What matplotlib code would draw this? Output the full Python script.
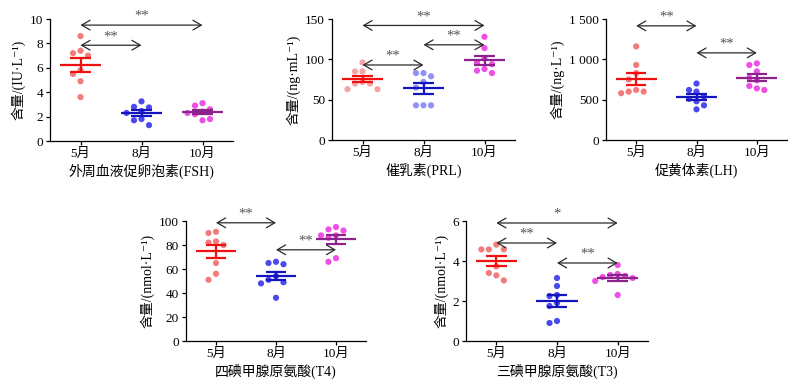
import numpy as np
import matplotlib
matplotlib.use('Agg')
import matplotlib.pyplot as plt

plt.rcParams['font.family'] = ['Liberation Serif', 'Noto Sans CJK SC', 'DejaVu Serif']

# ---- data ----
months = ['5月', '8月', '10月']

fsh = [[8.6, 7.4, 7.2, 7.0, 5.8, 5.5, 4.9, 3.6],
       [3.25, 2.8, 2.75, 2.45, 2.3, 1.8, 1.7, 1.3],
       [3.1, 2.9, 2.6, 2.4, 2.3, 2.2, 1.8, 1.7]]
prl = [[96, 85, 85, 72, 70, 70, 63, 63],
       [83, 83, 79, 72, 65, 43, 43, 43],
       [128, 114, 101, 96, 94, 88, 86, 83]]
lh = [[1160, 930, 830, 750, 620, 600, 600, 580],
      [700, 620, 600, 540, 510, 480, 430, 380],
      [950, 930, 850, 770, 740, 670, 640, 620]]
t4 = [[91, 90, 83, 82, 80, 65, 56, 51],
      [66, 65, 64, 54, 51, 49, 48, 36],
      [95, 93, 92, 88, 88, 86, 69, 66]]
t3 = [[4.82, 4.58, 4.58, 4.58, 3.73, 3.4, 3.28, 3.03],
      [3.15, 2.75, 2.3, 2.25, 1.9, 1.75, 1.0, 0.9],
      [3.8, 3.35, 3.3, 3.25, 3.2, 3.15, 3.0, 2.3]]

# significance arrows: (group a, group b, height, stars)
fsh_sig = [(0, 2, 9.5, '**'), (0, 1, 7.85, '**')]
prl_sig = [(0, 2, 142, '**'), (1, 2, 118, '**'), (0, 1, 93, '**')]
lh_sig = [(0, 1, 1415, '**'), (1, 2, 1080, '**')]
t4_sig = [(0, 1, 98.5, '**'), (1, 2, 76, '**')]
t3_sig = [(0, 2, 5.9, '*'), (0, 1, 4.9, '**'), (1, 2, 3.9, '**')]

fsh_ticks = [0, 2, 4, 6, 8, 10]
prl_ticks = [0, 50, 100, 150]
lh_ticks = [0, 500, 1000, 1500]
lh_ticklabels = ['0', '500', '1 000', '1 500']
t4_ticks = [0, 20, 40, 60, 80, 100]
t3_ticks = [0, 2, 4, 6]

# ---- styles ----
dot_colors = ['#F27C7C', '#4A4AEE', '#EE4FE4']
line_colors = ['#F01010', '#1515C0', '#8C228C']


def swarm_x(ax, vals, xc, d=7.5):
    """simple beeswarm in pixel space"""
    pts = ax.transData.transform(np.column_stack([np.full(len(vals), xc), vals]))
    placed = []
    for px, py in pts:
        for k in [0, -1, 1, -2, 2, -3, 3]:
            cx = px + k * d
            if all((cx - qx) ** 2 + (py - qy) ** 2 >= d * d for qx, qy in placed):
                break
        placed.append((cx, py))
    back = ax.transData.inverted().transform(np.array(placed))
    return back[:, 0]


def panel(fig, rect, data, sig, ticks, ylabel, xlabel, ticklabels=None, dot_alpha=(1, 1, 1)):
    ax = fig.add_axes(rect)
    ax.set_xlim(-0.5, 2.5)
    ax.set_ylim(0, ticks[-1])
    for s in ['top', 'right']:
        ax.spines[s].set_visible(False)
    for s in ['left', 'bottom']:
        ax.spines[s].set_linewidth(0.9)
    ax.set_yticks(ticks)
    if ticklabels is not None:
        ax.set_yticklabels(ticklabels)
    ax.set_xticks(range(len(months)))
    ax.set_xticklabels(months)
    ax.tick_params(direction='out', length=3, width=0.9, labelsize=9.5, pad=2)
    for i, vals in enumerate(data):
        vals = np.array(vals, dtype=float)
        xs = swarm_x(ax, vals, i)
        ax.scatter(xs, vals, s=20, color=dot_colors[i], alpha=dot_alpha[i],
                   edgecolor='none', zorder=2)
        m = vals.mean()
        se = vals.std(ddof=1) / np.sqrt(len(vals))
        c = line_colors[i]
        ax.hlines(m, i - 0.34, i + 0.34, color=c, lw=1.6, zorder=3)
        ax.vlines(i, m - se, m + se, color=c, lw=1.6, zorder=3)
        ax.hlines([m - se, m + se], i - 0.17, i + 0.17, color=c, lw=1.6, zorder=3)
    for a, b, h, txt in sig:
        ax.annotate('', xy=(b, h), xytext=(a, h), annotation_clip=False,
                    arrowprops=dict(arrowstyle='<->,head_length=0.6,head_width=0.35',
                                    color='#2a2a2a', lw=0.9, shrinkA=0, shrinkB=0))
        ax.annotate(txt, xy=((a + b) / 2, h), xytext=(0, 1.5), textcoords='offset points',
                    ha='center', va='bottom', fontsize=10.5, color='#555555',
                    annotation_clip=False)
    ax.set_ylabel(ylabel, fontsize=10, labelpad=3)
    ax.set_xlabel(xlabel, fontsize=10, labelpad=3)
    return ax


fig = plt.figure(figsize=(7.88, 3.88), dpi=100)
W, H = 788., 388.


def rect(left, right, top, bottom):
    return [left / W, (H - bottom) / H, (right - left) / W, (bottom - top) / H]


panel(fig, rect(50, 233, 19, 141), fsh, fsh_sig, fsh_ticks,
      '含量/(IU·L⁻¹)', '外周血液促卵泡素(FSH)')
panel(fig, rect(332, 515, 19, 140), prl, prl_sig, prl_ticks,
      '含量/(ng·mL⁻¹)', '催乳素(PRL)', dot_alpha=(0.7, 0.6, 1))
panel(fig, rect(606, 787, 19, 140), lh, lh_sig, lh_ticks,
      '含量/(ng·L⁻¹)', '促黄体素(LH)', ticklabels=lh_ticklabels)
panel(fig, rect(186, 366, 221, 341), t4, t4_sig, t4_ticks,
      '含量/(nmol·L⁻¹)', '四碘甲腺原氨酸(T4)')
panel(fig, rect(466, 648, 221, 341), t3, t3_sig, t3_ticks,
      '含量/(nmol·L⁻¹)', '三碘甲腺原氨酸(T3)')

fig.savefig('out.png', dpi=100)
